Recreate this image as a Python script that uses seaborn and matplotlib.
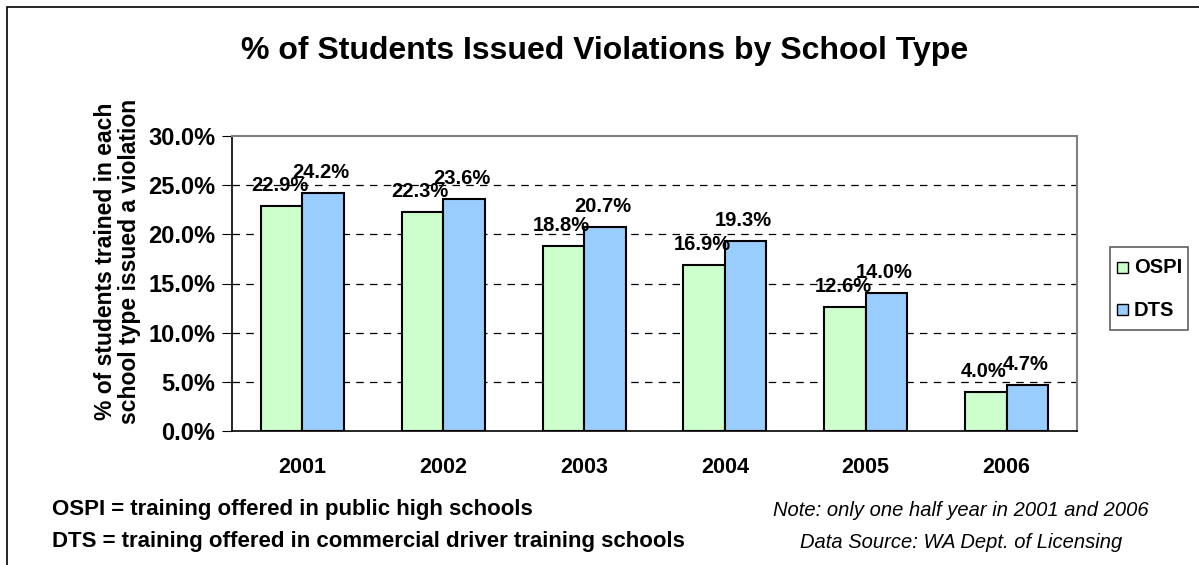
import numpy as np
import pandas as pd
import seaborn as sns
import matplotlib.pyplot as plt
from matplotlib.patches import Rectangle
from matplotlib.ticker import FixedLocator

years = ["2001", "2002", "2003", "2004", "2005", "2006"]
ospi = [22.9, 22.3, 18.8, 16.9, 12.6, 4.0]
dts = [24.2, 23.6, 20.7, 19.3, 14.0, 4.7]
series = ["OSPI", "DTS"]
colors = ["#ccffcc", "#99ccff"]

df = pd.DataFrame({
    "Year": years * 2,
    "School": ["OSPI"] * len(years) + ["DTS"] * len(years),
    "Pct": ospi + dts,
})

sns.set_style("white")
plt.rcParams["font.family"] = ["Liberation Sans", "DejaVu Sans"]
plt.rcParams["text.color"] = "black"
plt.rcParams["xtick.color"] = "black"
plt.rcParams["ytick.color"] = "black"
plt.rcParams["axes.labelcolor"] = "black"

W, H = 1199, 565
fig = plt.figure(figsize=(W / 100, H / 100), dpi=100)
ax = fig.add_axes([232 / W, 1 - 431 / H, (1077 - 232) / W, (431 - 136) / H])

sns.barplot(data=df, x="Year", y="Pct", hue="School", hue_order=series,
            palette=colors, saturation=1, width=0.59, edgecolor="black",
            linewidth=1.5, gap=0, ax=ax, legend=False)

ax.set_ylim(0, 30)
ax.set_xlim(-0.5, len(years) - 0.5)
ticks = np.arange(0, 31, 5)
ax.set_yticks(ticks)
ax.set_yticklabels([f"{v:.1f}%" for v in ticks], fontsize=17, fontweight="bold")
ax.set_xticks(range(len(years)))
ax.set_xticklabels(years, fontsize=15.5, fontweight="bold")
ax.xaxis.set_minor_locator(FixedLocator(np.arange(-0.5, len(years), 1)))
ax.tick_params(axis="x", which="major", length=0, pad=19)
ax.tick_params(axis="x", which="minor", length=6, direction="out", color="black")
ax.tick_params(axis="y", length=7, direction="out", color="black", pad=5, left=True)
for v in range(5, 30, 5):
    ax.axhline(v, color="black", linestyle=(0, (6, 5)), linewidth=0.9, zorder=0)

ax.set_xlabel("")
ax.set_ylabel("% of students trained in each\nschool type issued a violation",
              fontsize=16.5, fontweight="bold", linespacing=1.05)
ax.yaxis.set_label_coords(-0.108, 0.576)

for side in ["left", "bottom"]:
    ax.spines[side].set_color("black")
    ax.spines[side].set_linewidth(1.2)
for side in ["top", "right"]:
    ax.spines[side].set_color("#808080")
    ax.spines[side].set_linewidth(1.5)

for i, container in enumerate(ax.containers):
    for bar, val in zip(container, [ospi, dts][i]):
        x = bar.get_x() + bar.get_width() / 2 - 0.015
        ax.text(x, val + 2.1, f"{val:.1f}%", ha="center", va="center",
                fontsize=14.5, fontweight="bold")

fig.text(605 / W, 1 - 51 / H,
         "% of Students Issued Violations by School Type",
         ha="center", va="center", fontsize=23, fontweight="bold")

# legend
lx, ly, lw, lh = 1110, 247, 78, 83
fig.patches.append(Rectangle((lx / W, 1 - (ly + lh) / H), lw / W, lh / H,
                             transform=fig.transFigure, facecolor="white",
                             edgecolor="#606060", linewidth=1.2))
for k, (name, c) in enumerate(zip(series, colors)):
    yy = 268 + k * 42
    fig.patches.append(Rectangle((1117 / W, 1 - (yy + 5) / H), 11 / W, 11 / H,
                                 transform=fig.transFigure, facecolor=c,
                                 edgecolor="black", linewidth=1))
    fig.text(1134 / W, 1 - yy / H, name, ha="left", va="center",
             fontsize=14.5, fontweight="bold")

fig.text(52 / W, 1 - 509 / H, "OSPI = training offered in public high schools",
         ha="left", va="center", fontsize=16, fontweight="bold")
fig.text(52 / W, 1 - 541 / H, "DTS = training offered in commercial driver training schools",
         ha="left", va="center", fontsize=16, fontweight="bold")
fig.text(961 / W, 1 - 511 / H, "Note: only one half year in 2001 and 2006",
         ha="center", va="center", fontsize=14.5, style="italic")
fig.text(961 / W, 1 - 543 / H, "Data Source: WA Dept. of Licensing",
         ha="center", va="center", fontsize=14.5, style="italic")

fig.patches.append(Rectangle((7 / W, -0.05), 1.1, 1 - 7 / H + 0.05,
                             transform=fig.transFigure, fill=False,
                             edgecolor="black", linewidth=1.2))

fig.savefig("out.png", dpi=100)
